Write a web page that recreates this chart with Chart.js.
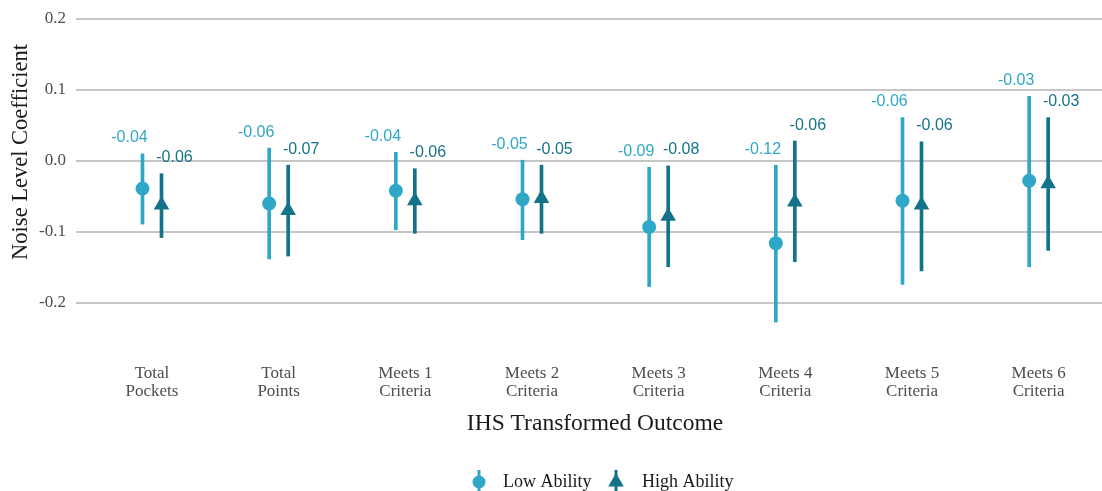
<!DOCTYPE html>
<html>
<head>
<meta charset="utf-8">
<script src="https://cdn.jsdelivr.net/npm/chart.js@4.4.1/dist/chart.umd.min.js"></script>
<style>
  html, body { margin: 0; padding: 0; background: #fff; overflow: hidden; }
  #wrap { width: 1102px; height: 491px; }
</style>
</head>
<body>
<div id="wrap"><canvas id="chart" width="1102" height="491"></canvas></div>
<script>
// categories on the x axis (two lines each)
const categories = [
  ['Total', 'Pockets'],
  ['Total', 'Points'],
  ['Meets 1', 'Criteria'],
  ['Meets 2', 'Criteria'],
  ['Meets 3', 'Criteria'],
  ['Meets 4', 'Criteria'],
  ['Meets 5', 'Criteria'],
  ['Meets 6', 'Criteria']
];

// point estimates
const lowAbility = [-0.039, -0.060, -0.042, -0.054, -0.093, -0.116, -0.056, -0.028];
const highAbility = [-0.062, -0.070, -0.056, -0.053, -0.078, -0.058, -0.062, -0.032];

// confidence intervals [lower, upper]
const lowAbilityCI = [
  [-0.089, 0.010], [-0.138, 0.018], [-0.097, 0.012], [-0.111, 0.001],
  [-0.177, -0.009], [-0.227, -0.006], [-0.174, 0.061], [-0.149, 0.091]
];
const highAbilityCI = [
  [-0.108, -0.018], [-0.134, -0.006], [-0.102, -0.011], [-0.102, -0.006],
  [-0.149, -0.007], [-0.142, 0.028], [-0.155, 0.027], [-0.126, 0.061]
];

const yTicks = [-0.2, -0.1, 0.0, 0.1, 0.2];

const lowColor = '#2fa8c7';
const highColor = '#157389';
const dodge = 0.075;
const serif = '"Liberation Serif", "Times New Roman", serif';
const sans = '"Liberation Sans", Arial, sans-serif';

// value labels above each error bar
const valueLabels = {
  id: 'valueLabels',
  afterDatasetsDraw(chart) {
    const { ctx, scales: { x, y } } = chart;
    ctx.save();
    ctx.font = '16px ' + sans;
    ctx.textAlign = 'center';
    ctx.textBaseline = 'alphabetic';
    categories.forEach((c, i) => {
      ctx.fillStyle = lowColor;
      ctx.fillText(lowAbility[i].toFixed(2),
        x.getPixelForValue(i - dodge) - 13, y.getPixelForValue(lowAbilityCI[i][1]) - 11.5);
      ctx.fillStyle = highColor;
      ctx.fillText(highAbility[i].toFixed(2),
        x.getPixelForValue(i + dodge) + 13, y.getPixelForValue(highAbilityCI[i][1]) - 11.5);
    });
    ctx.restore();
  }
};

// axis titles and legend
const titlesAndLegend = {
  id: 'titlesAndLegend',
  afterDraw(chart) {
    const ctx = chart.ctx;
    ctx.save();
    ctx.fillStyle = '#1a1a1a';
    ctx.font = '23.5px ' + serif;
    ctx.textAlign = 'center';
    ctx.textBaseline = 'middle';
    ctx.fillText('IHS Transformed Outcome', 595, 424);

    ctx.save();
    ctx.translate(21, 152);
    ctx.rotate(-Math.PI / 2);
    ctx.font = '22.5px ' + serif;
    ctx.fillText('Noise Level Coefficient', 0, 0);
    ctx.restore();

    // legend
    const ly = 482;
    ctx.lineWidth = 3;
    ctx.strokeStyle = lowColor;
    ctx.beginPath();
    ctx.moveTo(479, ly - 12);
    ctx.lineTo(479, ly + 12);
    ctx.stroke();
    ctx.fillStyle = lowColor;
    ctx.beginPath();
    ctx.arc(479, ly, 6.5, 0, Math.PI * 2);
    ctx.fill();

    ctx.strokeStyle = highColor;
    ctx.beginPath();
    ctx.moveTo(616, ly - 12);
    ctx.lineTo(616, ly + 12);
    ctx.stroke();
    ctx.fillStyle = highColor;
    ctx.beginPath();
    ctx.moveTo(616, ly - 9);
    ctx.lineTo(616 + 7.8, ly + 4.5);
    ctx.lineTo(616 - 7.8, ly + 4.5);
    ctx.closePath();
    ctx.fill();

    ctx.fillStyle = '#1a1a1a';
    ctx.font = '18px ' + serif;
    ctx.textAlign = 'left';
    ctx.fillText('Low Ability', 503, ly);
    ctx.fillText('High Ability', 642, ly);
    ctx.restore();
  }
};

const ctx = document.getElementById('chart').getContext('2d');
new Chart(ctx, {
  type: 'bar',
  data: {
    datasets: [
      {
        type: 'scatter',
        label: 'Low Ability',
        data: lowAbility.map((v, i) => ({ x: i - dodge, y: v })),
        pointStyle: 'circle',
        pointRadius: 7,
        backgroundColor: lowColor,
        borderWidth: 0,
        order: 1
      },
      {
        type: 'scatter',
        label: 'High Ability',
        data: highAbility.map((v, i) => ({ x: i + dodge, y: v })),
        pointStyle: 'triangle',
        pointRadius: 9,
        backgroundColor: highColor,
        borderWidth: 0,
        order: 1
      },
      {
        type: 'bar',
        label: 'Low CI',
        data: lowAbilityCI.map((r, i) => ({ x: i - dodge, y: r })),
        backgroundColor: lowColor,
        barThickness: 3,
        grouped: false,
        borderWidth: 0,
        order: 2
      },
      {
        type: 'bar',
        label: 'High CI',
        data: highAbilityCI.map((r, i) => ({ x: i + dodge, y: r })),
        backgroundColor: highColor,
        barThickness: 3,
        grouped: false,
        borderWidth: 0,
        order: 2
      }
    ]
  },
  options: {
    responsive: false,
    animation: false,
    layout: { autoPadding: false, padding: { top: 4, right: 0, left: 0, bottom: 0 } },
    plugins: {
      legend: { display: false },
      tooltip: { enabled: false }
    },
    scales: {
      x: {
        type: 'linear',
        offset: false,
        min: -0.6,
        max: 7.5,
        grid: { display: false, offset: false },
        border: { display: false },
        afterBuildTicks: function(scale) {
          scale.ticks = categories.map((c, i) => ({ value: i }));
        },
        afterFit: function(scale) {
          scale.height = 154;
          scale.paddingLeft = 0;
          scale.paddingRight = 0;
        },
        ticks: {
          autoSkip: false,
          maxRotation: 0,
          padding: 20,
          color: '#4d4d4d',
          font: { family: serif, size: 17, lineHeight: 1.06 },
          callback: function(value) { return categories[value]; }
        }
      },
      y: {
        type: 'linear',
        min: -0.248,
        max: 0.221,
        afterBuildTicks: function(scale) {
          scale.ticks = yTicks.map(v => ({ value: v }));
        },
        afterFit: function(scale) {
          scale.width = 76;
          scale.paddingTop = 0;
          scale.paddingBottom = 0;
        },
        grid: { color: '#c6c6c6', lineWidth: 2, drawTicks: false },
        border: { display: false },
        ticks: {
          padding: 10,
          color: '#4d4d4d',
          font: { family: serif, size: 17 },
          callback: function(value) { return value.toFixed(1); }
        }
      }
    }
  },
  plugins: [valueLabels, titlesAndLegend]
});
</script>
</body>
</html>
